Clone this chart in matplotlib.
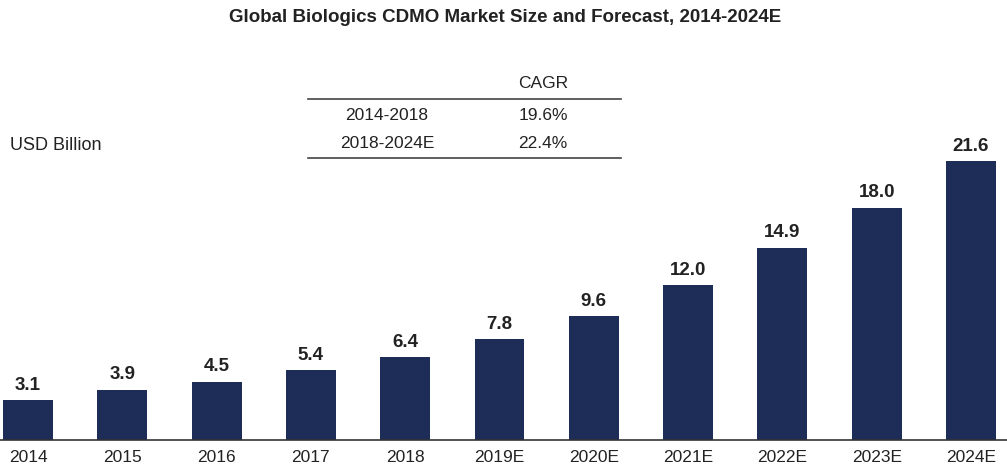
import matplotlib
matplotlib.use("Agg")
import matplotlib.pyplot as plt

plt.rcParams['font.family'] = ['Liberation Sans', 'DejaVu Sans']

years = ["2014", "2015", "2016", "2017", "2018", "2019E", "2020E", "2021E", "2022E", "2023E", "2024E"]
values = [3.1, 3.9, 4.5, 5.4, 6.4, 7.8, 9.6, 12.0, 14.9, 18.0, 21.6]
cagr_periods = ["2014-2018", "2018-2024E"]
cagr_values = ["19.6%", "22.4%"]

bar_color = "#1E2C58"
W, H = 1007, 468
fig = plt.figure(figsize=(W / 100, H / 100), dpi=100)

base_px = 440
top_px = 60
ax = fig.add_axes([0, (H - base_px) / H, 1, (base_px - top_px) / H])
px_per_unit = 279 / 21.6
ax.set_ylim(0, (base_px - top_px) / px_per_unit)
spacing = 94.3
c0 = 28
ax.set_xlim(-c0 / spacing, (W - c0) / spacing)

x = list(range(len(years)))
ax.bar(x, values, width=0.53, color=bar_color, zorder=2)
for xi, v in zip(x, values):
    ax.text(xi, v + 0.5, f"{v:.1f}", ha="center", va="bottom", fontsize=13.5,
            fontweight="bold", color="#222222")

for s in ["top", "right", "left"]:
    ax.spines[s].set_visible(False)
ax.spines["bottom"].set_color("#333333")
ax.spines["bottom"].set_linewidth(1.2)
ax.set_yticks([])
ax.set_xticks(x)
ax.set_xticklabels(years, fontsize=12.5, color="#222222")
ax.tick_params(axis="x", length=0, pad=7)

def fy(py):
    return 1 - py / H

def fx(px):
    return px / W

fig.text(fx(505), fy(18), "Global Biologics CDMO Market Size and Forecast, 2014-2024E",
         ha="center", va="center", fontsize=13.5, fontweight="bold", color="#222222")
fig.text(fx(10), fy(146), "USD Billion", ha="left", va="center", fontsize=13, color="#222222")

# CAGR table
fig.text(fx(543), fy(83), "CAGR", ha="center", va="center", fontsize=12.5, color="#222222")
rows_y = [115, 144]
for ry, p, c in zip(rows_y, cagr_periods, cagr_values):
    fig.text(fx(387), fy(ry), p, ha="center", va="center", fontsize=12.5, color="#222222")
    fig.text(fx(543), fy(ry), c, ha="center", va="center", fontsize=12.5, color="#222222")
for ly in [99, 158]:
    fig.add_artist(plt.Line2D([fx(308), fx(621)], [fy(ly), fy(ly)], color="#444444", lw=1.2))

fig.savefig("out.png", dpi=100)
